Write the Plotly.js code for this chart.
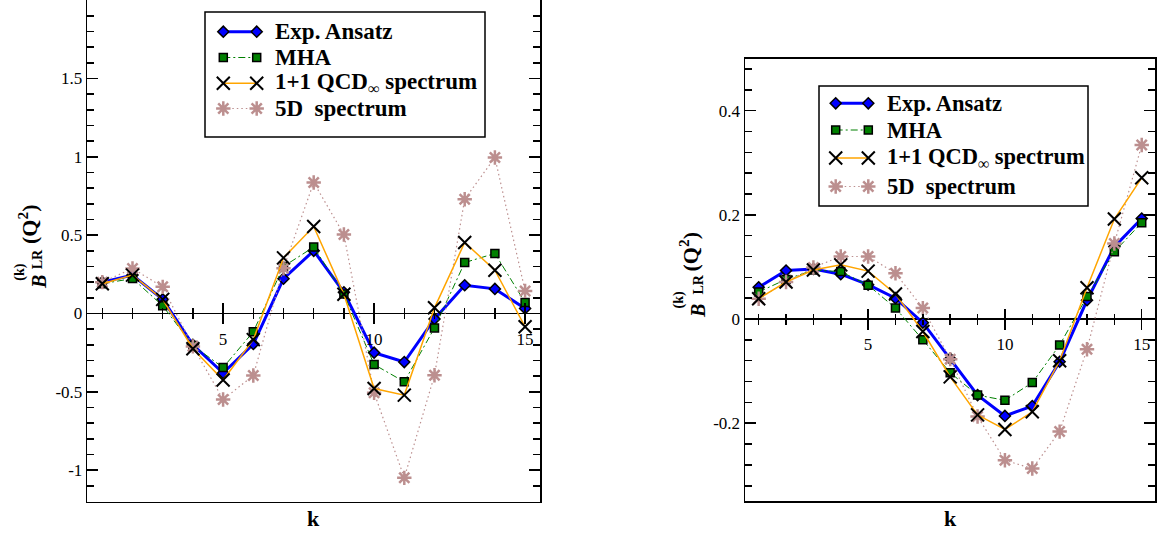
<!DOCTYPE html>
<html><head><meta charset="utf-8">
<script src="https://cdn.plot.ly/plotly-3.0.1.min.js"></script>
<style>html,body{margin:0;padding:0;background:#fff}#chart{width:1158px;height:533px}</style>
</head><body><div id="chart"></div>
<script>
// ---------------- data ----------------
const k = [1,2,3,4,5,6,7,8,9,10,11,12,13,14,15];
// left panel
const expA = [0.20, 0.245, 0.09, -0.20, -0.38, -0.195, 0.222, 0.40, 0.135, -0.25, -0.31, -0.035, 0.18, 0.157, 0.032];
const mhaA = [0.19, 0.223, 0.049, -0.205, -0.345, -0.117, 0.30, 0.424, 0.125, -0.326, -0.436, -0.092, 0.325, 0.383, 0.070];
const qcdA = [0.19, 0.245, 0.09, -0.225, -0.425, -0.167, 0.355, 0.555, 0.123, -0.479, -0.521, 0.036, 0.453, 0.276, -0.085];
const d5A  = [0.20, 0.287, 0.17, -0.21, -0.549, -0.396, 0.288, 0.836, 0.504, -0.506, -1.049, -0.394, 0.729, 0.995, 0.144];
// right panel
const expB = [0.061, 0.093, 0.096, 0.086, 0.066, 0.040, -0.007, -0.076, -0.146, -0.186, -0.167, -0.082, 0.036, 0.139, 0.193];
const mhaB = [0.052, 0.076, 0.094, 0.091, 0.065, 0.021, -0.040, -0.103, -0.146, -0.156, -0.122, -0.050, 0.043, 0.129, 0.185];
const qcdB = [0.039, 0.071, 0.094, 0.104, 0.092, 0.048, -0.024, -0.111, -0.184, -0.212, -0.178, -0.080, 0.060, 0.192, 0.271];
const d5B  = [0.039, 0.071, 0.099, 0.120, 0.120, 0.088, 0.021, -0.077, -0.187, -0.271, -0.287, -0.216, -0.058, 0.145, 0.334];

const seriesNames = ["Exp. Ansatz", "MHA", "1+1 QCD<sub>\u221e</sub> spectrum", "5D\u00a0 spectrum"];
const yTickValsA = [-1, -0.5, 0, 0.5, 1, 1.5];
const yTickTextA = ["-1", "-0.5", "0", "0.5", "1", "1.5"];
const yTickValsB = [-0.2, 0, 0.2, 0.4];
const yTickTextB = ["-0.2", "0", "0.2", "0.4"];
const xTickVals = [5, 10, 15];
const xTickText = ["5", "10", "15"];
const xTitle = "k";

// ---------------- layout constants ----------------
const W = 1158, H = 533;
const FONT = 'Liberation Serif, serif';
const fx = p => p / W;
const fy = p => 1 - p / H;

const styles = [
  {line:{color:'#0000ff', width:3}, marker:{symbol:'diamond', size:8.5, color:'#0000ff', line:{color:'#000', width:1.5}}},
  {line:{color:'#008000', width:1, dash:'7px,3px,2px,3px'}, marker:{symbol:'square', size:8, color:'#008000', line:{color:'#000', width:1.5}}},
  {line:{color:'#ffa500', width:1.5}, marker:{symbol:'x-thin', size:13, color:'#000', line:{color:'#000', width:2}}},
  {line:{color:'#bc8f8f', width:1.2, dash:'1.5px,3px'}, marker:{symbol:'asterisk', size:12, color:'#bc8f8f', line:{color:'#bc8f8f', width:2.5}}}
];
const drawOrder = [0, 1, 3, 2];

const panels = [
  {sx:'', data:[expA, mhaA, qcdA, d5A], xr:[0.5, 15.5], yr:[-1.2, 2.0], px:[87.2, 540.2], py:[0.1, 501.5],
   yv:yTickValsA, yt:yTickTextA, minor:0.1,
   legBox:[205, 12, 485, 137], legRows:[31.7, 57.5, 83.3, 108.5], legMk:[223.3, 256.7], legText:273, legFont:23,
   ttl:{B:[38.3, 281.7], k:[19.2, 272.5], LR:[38.3, 259], Q:[28, 225]}, kx:313.7},
  {sx:'2', data:[expB, mhaB, qcdB, d5B], xr:[0.5, 15.5], yr:[-0.35, 0.5], px:[745.0, 1155.4], py:[58.5, 501.4],
   yv:yTickValsB, yt:yTickTextB, minor:0.04,
   legBox:[819, 86, 1088, 206], legRows:[103.3, 130, 158, 186.5], legMk:[835.7, 868.3], legText:885, legFont:22.5,
   ttl:{B:[697.5, 311.5], k:[678, 300.5], LR:[697.5, 285], Q:[689, 252.5]}, kx:950}
];

const traces = [];
const layout = {
  width: W, height: H, margin:{l:0, r:0, t:0, b:0},
  paper_bgcolor:'#fff', plot_bgcolor:'rgba(0,0,0,0)', showlegend:false,
  font:{family:FONT, color:'#000'},
  shapes:[], annotations:[]
};

const tfont = {family:FONT, size:17, color:'#000'};
panels.forEach((p, pi) => {
  const xa = 'x' + p.sx, ya = 'y' + p.sx;
  const xKey = 'xaxis' + p.sx, yKey = 'yaxis' + p.sx;
  const dx = [fx(p.px[0]), fx(p.px[1])];
  const dy = [fy(p.py[1]), fy(p.py[0])];
  const zeroPos = dy[0] + (0 - p.yr[0]) / (p.yr[1] - p.yr[0]) * (dy[1] - dy[0]);

  layout[xKey] = {domain:dx, range:p.xr, anchor:ya, showline:true, mirror:true, linewidth:1.5, linecolor:'#000',
    ticks:'', showticklabels:false, showgrid:false, zeroline:false, fixedrange:true};
  layout[yKey] = {domain:dy, range:p.yr, anchor:xa, showline:true, mirror:'ticks', linewidth:1.5, linecolor:'#000',
    ticks:'inside', ticklen:11, tickwidth:1.5, tickcolor:'#000', tickmode:'array', tickvals:p.yv, ticktext:p.yt,
    minor:{ticks:'inside', ticklen:7, tickwidth:1.5, tickcolor:'#000', tickmode:'linear', tick0:0, dtick:p.minor},
    tickfont:tfont, showgrid:false, zeroline:true, zerolinecolor:'#000', zerolinewidth:1.5, fixedrange:true};

  // zero-line crossing ticks (two overlaid free axes)
  const nA = 3 + pi * 2, nB = 4 + pi * 2;
  const common = {overlaying:xa, anchor:'free', position:zeroPos, range:p.xr, showline:false, showgrid:false,
    zeroline:false, tickmode:'array', tickvals:xTickVals, ticktext:xTickText, tickwidth:1.5, tickcolor:'#000',
    ticklen:10, tickfont:tfont, fixedrange:true};
  layout['xaxis' + nA] = Object.assign({}, common, {ticks:'outside', showticklabels:true,
    minor:{ticks:'outside', ticklen:5, tickwidth:1.5, tickcolor:'#000', tickmode:'linear', tick0:0, dtick:1}});
  layout['xaxis' + nB] = Object.assign({}, common, {ticks:'inside', showticklabels:false,
    minor:{ticks:'inside', ticklen:5, tickwidth:1.5, tickcolor:'#000', tickmode:'linear', tick0:0, dtick:1}});
  // empty helper traces so the overlaid axes get drawn
  [nA, nB].forEach(n => traces.push({type:'scatter', mode:'markers', x:[null], y:[null], xaxis:'x' + n, yaxis:ya,
    hoverinfo:'skip', showlegend:false}));

  // data traces
  drawOrder.forEach(si => {
    traces.push({type:'scatter', mode:'lines+markers', x:k, y:p.data[si], xaxis:xa, yaxis:ya,
      name:seriesNames[si], line:styles[si].line, marker:styles[si].marker, cliponaxis:false, hoverinfo:'skip'});
  });

  // legend box
  const b = p.legBox;
  layout.shapes.push({type:'rect', xref:'paper', yref:'paper', x0:fx(b[0]), x1:fx(b[2]), y0:fy(b[3]), y1:fy(b[1]),
    line:{color:'#000', width:1.5}, fillcolor:'#fff', layer:'below'});
  // legend samples on a hidden full-page axis pair
  const lx = 'x' + (7 + pi), ly = 'y' + (7 + pi);
  layout['xaxis' + (7 + pi)] = {domain:[0,1], range:[0, W], visible:false, fixedrange:true, anchor:ly};
  layout['yaxis' + (7 + pi)] = {domain:[0,1], range:[H, 0], visible:false, fixedrange:true, anchor:lx};
  [0,1,2,3].forEach(si => {
    const ry = p.legRows[si];
    traces.push({type:'scatter', mode:'lines+markers', x:[p.legMk[0], p.legMk[1]], y:[ry, ry], xaxis:lx, yaxis:ly,
      line:styles[si].line, marker:styles[si].marker, hoverinfo:'skip', cliponaxis:false});
    layout.annotations.push({xref:'paper', yref:'paper', x:fx(p.legText), y:fy(ry), xanchor:'left', yanchor:'middle',
      text:'<b>' + seriesNames[si] + '</b>', showarrow:false, font:{family:FONT, size:p.legFont, color:'#000'}});
  });

  // y title pieces
  const t = p.ttl;
  const ann = (pos, text, size) => layout.annotations.push({xref:'paper', yref:'paper', x:fx(pos[0]), y:fy(pos[1]),
    xanchor:'center', yanchor:'middle', textangle:-90, text:'<b>' + text + '</b>', showarrow:false,
    font:{family:FONT, size:size, color:'#000'}});
  ann(t.B, '<i>B</i>', 20);
  ann(t.k, '(k)', 14);
  ann(t.LR, 'LR', 14);
  ann(t.Q, '(Q<sup>2</sup>)', 22);
  // x title
  layout.annotations.push({xref:'paper', yref:'paper', x:fx(p.kx), y:fy(518), xanchor:'center', yanchor:'middle',
    text:'<b>' + xTitle + '</b>', showarrow:false, font:{family:FONT, size:22, color:'#000'}});
});

Plotly.newPlot('chart', traces, layout, {staticPlot:true, displayModeBar:false});
</script>
</body></html>
